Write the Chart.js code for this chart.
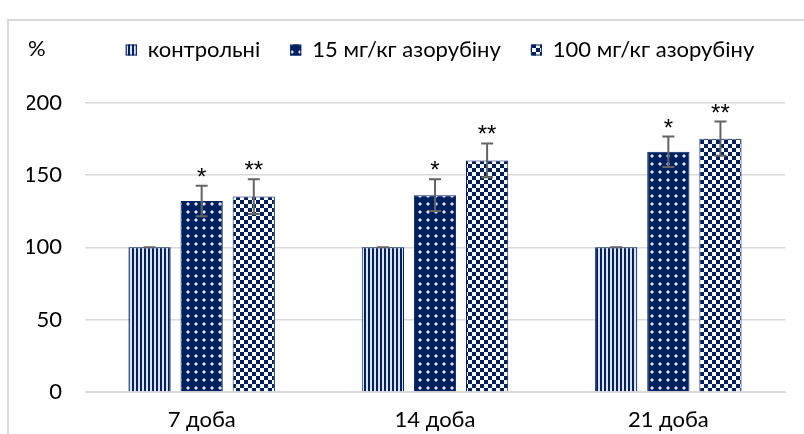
<!DOCTYPE html>
<html>
<head>
<meta charset="utf-8">
<script src="https://cdn.jsdelivr.net/npm/chart.js@4"></script>
<style>
  html, body { margin: 0; padding: 0; background: #fff; }
  #wrap { width: 804px; height: 434px; }
</style>
</head>
<body>
<div id="wrap"><canvas id="chart" width="804" height="434"></canvas></div>
<script>
// data
const categories = ['7 доба', '14 доба', '21 доба'];
const seriesNames = ['контрольні', '15 мг/кг азорубіну', '100 мг/кг азорубіну'];
const control = [100, 100, 100];
const dose15 = [132, 136, 166];
const dose100 = [135, 160, 175];
const errControl = [0, 0, 0];
const err15 = [10.5, 11, 10.5];
const err100 = [12, 11.7, 11.8];
const marks15 = ['*', '*', '*'];
const marks100 = ['**', '**', '**'];
const yTicks = [0, 50, 100, 150, 200];

const NAVY = '#002060';
const FONT = 'Lato';

// pattern tiles
const makeTile = (w, h, paint) => {
  const c = document.createElement('canvas');
  c.width = w; c.height = h;
  const g = c.getContext('2d');
  paint(g);
  return c;
};
const ctxMain = document.getElementById('chart').getContext('2d');

const stripes = ctxMain.createPattern(makeTile(4, 4, g => {
  g.fillStyle = '#dde3ee'; g.fillRect(0, 0, 4, 4);
  g.fillStyle = NAVY; g.fillRect(0, 0, 2, 4);
}), 'repeat');

const dots = ctxMain.createPattern(makeTile(8, 8, g => {
  g.fillStyle = NAVY; g.fillRect(0, 0, 8, 8);
  g.fillStyle = 'rgba(255,255,255,0.45)';
  g.fillRect(2, 3, 1, 2); g.fillRect(5, 3, 1, 2);
  g.fillRect(3, 2, 2, 1); g.fillRect(3, 5, 2, 1);
  g.fillStyle = '#dfe5f0'; g.fillRect(3, 3, 2, 2);
}), 'repeat');

const checker = ctxMain.createPattern(makeTile(8, 8, g => {
  g.fillStyle = '#ffffff'; g.fillRect(0, 0, 8, 8);
  g.fillStyle = NAVY; g.fillRect(0, 0, 4, 4); g.fillRect(4, 4, 4, 4);
}), 'repeat');

const errors = [errControl, err15, err100];
const marks = [null, marks15, marks100];

// frame around the chart
const framePlugin = {
  id: 'frame',
  beforeDraw(chart) {
    const c = chart.ctx;
    c.save();
    c.strokeStyle = '#d9d9d9';
    c.lineWidth = 2;
    c.strokeRect(8, 20, 900, 500);
    c.restore();
  }
};

// one-row legend drawn from the datasets, centred over the plot
const legendRowPlugin = {
  id: 'legendRow',
  afterDraw(chart) {
    const c = chart.ctx;
    const box = 11, gap = 11, spacing = 30, cy = 50;
    c.save();
    c.font = '22px ' + FONT;
    c.textBaseline = 'middle';
    c.textAlign = 'left';
    const items = chart.data.datasets.map(ds => ({
      label: ds.label,
      fill: ds.backgroundColor,
      w: box + gap + c.measureText(ds.label).width
    }));
    const total = items.reduce((s, it) => s + it.w, 0) + spacing * (items.length - 1);
    let x = (chart.chartArea.left + chart.chartArea.right) / 2 - total / 2 + 5;
    items.forEach(it => {
      c.fillStyle = it.fill;
      c.fillRect(x, cy - box / 2, box, box);
      c.strokeStyle = NAVY;
      c.lineWidth = 1;
      c.strokeRect(x + 0.5, cy - box / 2 + 0.5, box - 1, box - 1);
      c.fillStyle = '#000';
      c.fillText(it.label, x + box + gap, cy);
      x += it.w + spacing;
    });
    c.restore();
  }
};

// error bars and significance marks
const errorBarPlugin = {
  id: 'errorBars',
  afterDatasetsDraw(chart) {
    const c = chart.ctx;
    const y = chart.scales.y;
    c.save();
    chart.data.datasets.forEach((ds, i) => {
      const meta = chart.getDatasetMeta(i);
      meta.data.forEach((bar, j) => {
        const v = ds.data[j];
        const e = errors[i][j];
        const top = y.getPixelForValue(v + e);
        const bot = y.getPixelForValue(v - e);
        c.strokeStyle = '#636363';
        c.lineWidth = 2;
        c.beginPath();
        c.moveTo(bar.x, top); c.lineTo(bar.x, bot);
        c.moveTo(bar.x - 6, top); c.lineTo(bar.x + 6, top);
        c.moveTo(bar.x - 6, bot); c.lineTo(bar.x + 6, bot);
        c.stroke();
        if (marks[i]) {
          c.fillStyle = '#000';
          c.font = '24px "Liberation Sans"';
          c.textAlign = 'center';
          c.textBaseline = 'alphabetic';
          c.fillText(marks[i][j], bar.x, top - 1);
        }
      });
    });
    c.restore();
  }
};

// "%" unit label in the top left corner
const unitPlugin = {
  id: 'unit',
  afterDraw(chart) {
    const c = chart.ctx;
    c.save();
    c.fillStyle = '#000';
    c.font = '22px ' + FONT;
    c.textAlign = 'left';
    c.textBaseline = 'middle';
    c.fillText('%', 28, 49);
    c.restore();
  }
};

const makeDataset = (label, data, fill) => ({
  label,
  data,
  backgroundColor: fill,
  borderColor: NAVY,
  borderWidth: 1,
  categoryPercentage: 0.67,
  barPercentage: 0.81
});

new Chart(ctxMain, {
  type: 'bar',
  data: {
    labels: categories,
    datasets: [
      makeDataset(seriesNames[0], control, stripes),
      makeDataset(seriesNames[1], dose15, dots),
      makeDataset(seriesNames[2], dose100, checker)
    ]
  },
  options: {
    responsive: false,
    animation: false,
    layout: { padding: { left: 27, right: 19, top: 102.5, bottom: 0 } },
    plugins: {
      legend: { display: false },
      tooltip: { enabled: false }
    },
    scales: {
      x: {
        grid: { display: false, drawTicks: false },
        border: { color: '#d9d9d9' },
        ticks: { color: '#000', padding: 15, font: { family: FONT, size: 22 } },
        afterFit: axis => {
          axis.height = 42;
          axis.paddingLeft = 0;
          axis.paddingRight = 0;
        }
      },
      y: {
        min: 0,
        max: 200,
        afterBuildTicks: axis => { axis.ticks = yTicks.map(v => ({ value: v })); },
        grid: { color: '#d9d9d9', lineWidth: 1.5, drawTicks: false },
        border: { display: false },
        ticks: { color: '#000', padding: 23, font: { family: FONT, size: 22 } },
        afterFit: axis => {
          axis.width = 58;
          axis.paddingTop = 0;
          axis.paddingBottom = 0;
        }
      }
    }
  },
  plugins: [framePlugin, legendRowPlugin, errorBarPlugin, unitPlugin]
});
</script>
</body>
</html>
